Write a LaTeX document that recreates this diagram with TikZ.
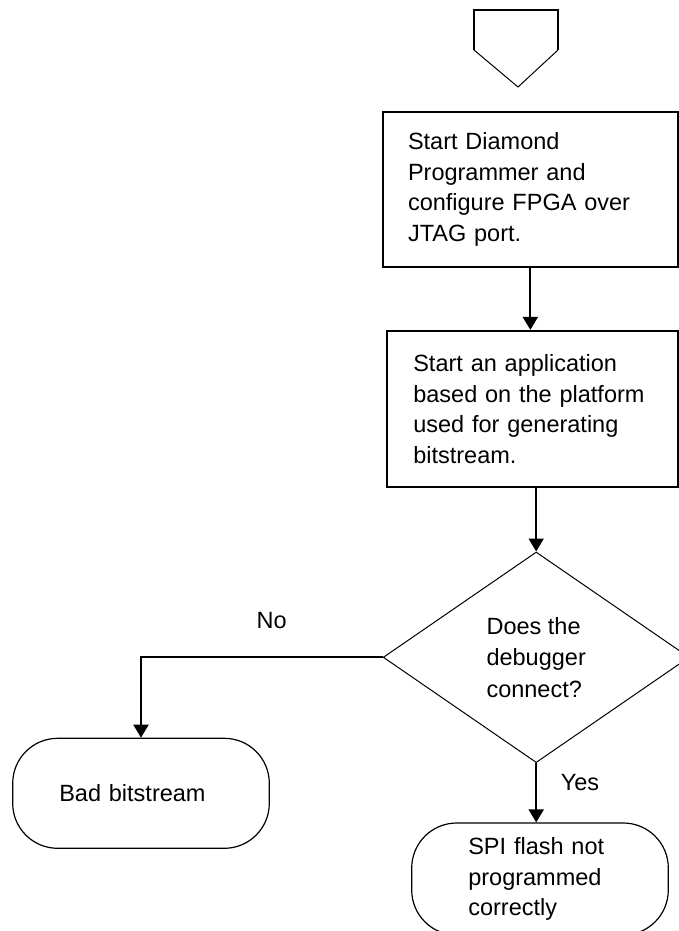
\documentclass[tikz,border=0pt]{standalone}
\usepackage{fontspec}
\setmainfont{Liberation Sans}
\usetikzlibrary{arrows.meta, shapes.geometric}

\begin{document}
\begin{tikzpicture}[
    x=1pt, y=-1pt,
    font=\fontsize{23.5pt}{30.5pt}\selectfont,
    process/.style={rectangle, draw, line width=2.2pt, align=left, inner ysep=0pt},
    decision/.style={diamond, draw, line width=1pt, align=left, minimum width=306pt, minimum height=210.6pt, font=\fontsize{23.5pt}{31.5pt}\selectfont},
    terminal/.style={rectangle, draw, line width=1.2pt, rounded corners=45pt, align=left, inner ysep=0pt},
    flow/.style={line width=2pt, -{Triangle[width=15pt, length=13pt]}},
    answer/.style={anchor=base}
]
\useasboundingbox (0,0) rectangle (679,931);

% off-page connector
\draw[line width=2pt] (474,50) -- (474,10) -- (558,10) -- (558,50);
\draw[line width=1pt] (474,50) -- (518,87) -- (558,50);

\node[process, text width=244.7pt, inner xsep=25pt, minimum height=154.7pt] (configure) at (530.35,189.35) {Start Diamond\\Programmer and\\configure FPGA over\\JTAG port.};

\node[process, text width=238.7pt, inner xsep=26pt, minimum height=155.7pt] (launch) at (532.65,408.85) {Start an application\\based on the platform\\used for generating\\bitstream.};

\node[decision] (decide) at (536.2,657.3) {Does the\\debugger\\connect?};

\node[terminal, text width=163.4pt, inner xsep=46.6pt, minimum height=110pt] (bad) at (141,793.3) {Bad bitstream};
\node[terminal, text width=143.4pt, inner xsep=56.6pt, minimum height=112pt] (flash) at (540,879) {SPI flash not\\programmed\\correctly};

\draw[flow] (configure.south) -- (configure.south |- launch.north);
\draw[flow] (launch.south -| decide.north) -- (decide.north);
\draw[flow] (decide.west) -| (bad.north);
\draw[flow] (decide.south) -- (decide.south |- flash.north);

\node[answer] (no) at (271.7,628.3) {No};
\node[answer] (yes) at (580,790) {Yes};

\end{tikzpicture}
\end{document}
